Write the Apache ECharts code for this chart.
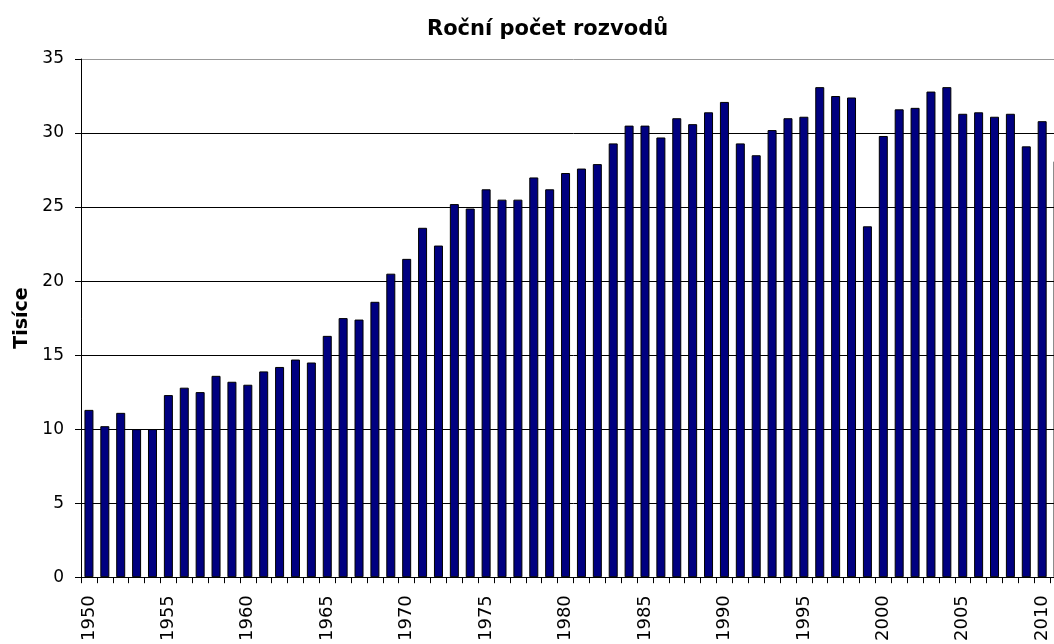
<!DOCTYPE html>
<html>
<head>
<meta charset="utf-8">
<script src="https://cdn.jsdelivr.net/npm/echarts@6/dist/echarts.min.js"></script>
<style>html,body{margin:0;padding:0;background:#fff;overflow:hidden}#c{width:1067px;height:644px}</style>
</head>
<body>
<div id="c"></div>
<script>
const years = [];
for (let y = 1950; y <= 2011; y++) years.push(String(y));
const divorces = [
  11.3, 10.2, 11.1, 10.0, 10.0, 12.3, 12.8, 12.5, 13.6, 13.2,
  13.0, 13.9, 14.2, 14.7, 14.5, 16.3, 17.5, 17.4, 18.6, 20.5,
  21.5, 23.6, 22.4, 25.2, 24.9, 26.2, 25.5, 25.5, 27.0, 26.2,
  27.3, 27.6, 27.9, 29.3, 30.5, 30.5, 29.7, 31.0, 30.6, 31.4,
  32.1, 29.3, 28.5, 30.2, 31.0, 31.1, 33.1, 32.5, 32.4, 23.7,
  29.8, 31.6, 31.7, 32.8, 33.1, 31.3, 31.4, 31.1, 31.3, 29.1,
  30.8, 28.1
];
const yTicks = { min: 0, max: 35, interval: 5 };

const chart = echarts.init(document.getElementById('c'), null, { renderer: 'canvas' });
chart.setOption({
  animation: false,
  backgroundColor: '#ffffff',
  title: {
    text: 'Roční počet rozvodů',
    left: 422,
    top: 14,
    textStyle: { fontFamily: 'DejaVu Sans, sans-serif', fontWeight: 'bold', fontSize: 21, color: '#000' }
  },
  grid: { left: 81, top: 59, width: 985, height: 519, containLabel: false },
  xAxis: {
    type: 'category',
    data: years,
    boundaryGap: true,
    axisLine: { show: true, lineStyle: { color: '#000', width: 1 } },
    axisTick: { show: true, interval: 0, length: 6, lineStyle: { color: '#000' } },
    axisLabel: {
      interval: 4, rotate: 90, margin: 18,
      fontFamily: 'DejaVu Sans, sans-serif', fontSize: 18, color: '#000'
    },
    splitLine: { show: false }
  },
  yAxis: {
    type: 'value',
    min: yTicks.min, max: yTicks.max, interval: yTicks.interval,
    name: 'Tisíce',
    nameLocation: 'middle',
    nameGap: 49,
    nameRotate: 90,
    nameTextStyle: { fontFamily: 'DejaVu Sans, sans-serif', fontWeight: 'bold', fontSize: 19, color: '#000' },
    axisLine: { show: true, lineStyle: { color: '#000', width: 1 } },
    axisTick: { show: true, length: 6, lineStyle: { color: '#000' } },
    axisLabel: { margin: 17, fontFamily: 'DejaVu Sans, sans-serif', fontSize: 17, color: '#000' },
    splitLine: {
      show: true,
      lineStyle: { color: ['#000', '#000', '#000', '#000', '#000', '#000', '#000', '#999'], width: 1 }
    }
  },
  series: [{
    type: 'bar',
    data: divorces,
    barWidth: 9,
    itemStyle: { color: '#000080', borderColor: '#000', borderWidth: 1 }
  }]
});
</script>
</body>
</html>
